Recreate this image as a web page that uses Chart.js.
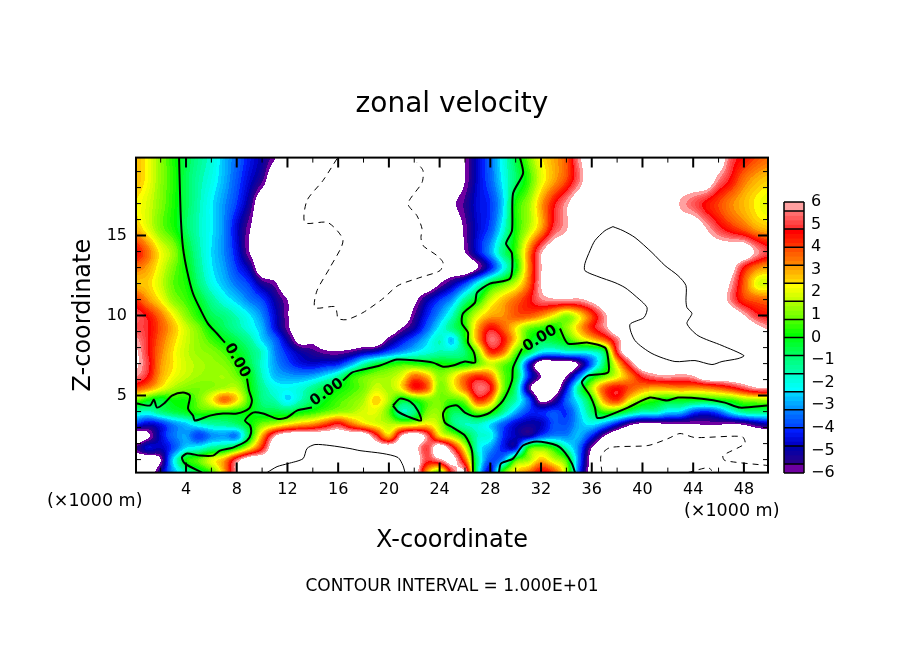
<!DOCTYPE html>
<html>
<head>
<meta charset="utf-8">
<title>zonal velocity</title>
<script src="https://cdn.jsdelivr.net/npm/chart.js@4"></script>
<style>
  html, body { margin: 0; padding: 0; background: #fff; }
  #wrap { position: relative; width: 904px; height: 654px; overflow: hidden; }
  canvas { position: absolute; left: 0; top: 0; }
</style>
</head>
<body>
<div id="wrap">
  <canvas id="field" width="904" height="654"></canvas>
  <canvas id="scaleBar" width="904" height="654"></canvas>
</div>
<script>
const L = -7; // off the colour scale, below (white)
const H = 7;  // off the colour scale, above (white)

// heights of the rows below, top to bottom (x1 km on the axis)
const zLevels = [20, 18.5, 17, 15.5, 14, 13, 12, 11, 10, 9.25, 8.5, 7.75, 7, 6.25, 5.5, 4.75, 4, 3.25, 2.5, 1.75, 1, 0.2];

// zonal velocity, one value per km of x (0..50)
const u20 = [2.8,2.2,1.2,.3,-.5,-1.2,-1.8,-2.7,-3.5,-4.3, -5,-5.9,L,L,L,L,L,L,L,L, L,L,L,L,L,L,-6,-4.6,-3.5,-2, -.5,1,2.3,3,3.8,5.8,H,H,H,H, H,H,H,H,H,H,H,5.2,4.6,4,3.6];
const u185 = [2.8,2.2,1.2,.4,-.6,-1.4,-2,-2.8,-3.7,-4.6, -5.5,L,L,L,L,L,L,L,L,L, L,L,L,L,L,L,-6,-4.6,-3.6,-2.2, -.8,.5,2,3,4,5.5,H,H,H,H, H,H,H,H,H,H,5.6,4.6,3.5,2.9,2.6];
const u17 = [2.4,1.9,1.1,.3,-.6,-1.5,-2.3,-3.1,-4,-5.2, L,L,L,L,L,L,L,L,L,L, L,L,L,L,L,-6.2,-5.5,-4.5,-4,-2.5, .2,1.3,3,4.6,5.8,H,H,H,H,H, H,H,H,5.9,5.3,4.6,4,3.3,2.8,2.3,2];
const u155 = [2.8,2,1,.3,-.7,-1.6,-2.3,-3.2,-4.6,-5.9, L,L,L,L,L,L,L,L,L,L, L,L,L,L,L,L,-5.8,-4.6,-3.8,-2, .2,1.5,3,5,5.9,H,H,H,H,H, H,H,H,H,H,6,5,4.3,3.7,3,2.7];
const u14 = [4.6,3.5,2.2,1.3,-.1,-1.4,-2.4,-3.2,-4.4,-6, L,L,L,L,L,L,L,L,L,L, L,L,L,L,L,L,-6,-4.5,-3,-1, .5,3.2,5.8,H,H,H,H,H,H,H, H,H,H,H,H,H,H,H,H,5.8,5];
const u13 = [3.5,3,2,1,.1,-1.2,-2.3,-3,-4,-5, L,L,L,L,L,L,L,L,L,L, L,L,L,L,L,L,L,-6,-4.3,-2.2, 0,3.2,5.9,H,H,H,H,H,H,H, H,H,H,H,H,H,H,6.5,4.6,3.4,2.9];
const u12 = [2.8,2.6,1.8,.8,.3,-.9,-2,-2.7,-3.4,-4, -5.2,-5.8,L,L,L,L,L,L,L,L, L,L,L,L,-6,-5,-3.8,-2,-.2,.8, 1.8,3.6,6,H,H,H,H,H,H,H, H,H,H,H,H,H,H,5.8,3.8,2.1,1.9];
const u11 = [4.2,3.2,2.3,1.2,.6,-.2,-1.2,-2,-2.6,-3.3, -3.9,-5,-6,L,L,L,L,L,L,L, L,L,-6.3,-5,-4,-3,-1.2,.1,1.8,2.8, 3.6,4.5,5.5,5.8,5.8,5.8,6.3,H,H,H, H,H,H,H,H,H,H,5.5,4.2,3.8,3.6];
const u10 = [5.3,4.6,3.5,2.3,1.2,.3,-.6,-1,-1.6,-2.3, -3.2,-4.6,-5.9,L,L,L,L,L,L,L, L,L,-5.6,-4.2,-3,-1.6,.4,2,3,3.2, 3.8,3.8,3.2,2.2,1.2,2.3,4,5.7,H,H, H,H,H,H,H,H,H,H,6.1,5,4.6];
const u925 = [5.2,4.8,3.8,2.8,1.8,1,0,-.7,-1.3,-2, -2.8,-4.4,-5.8,L,L,L,L,L,L,L, L,-6,-5,-3.6,-2.2,-1,.3,3,4.6,3.8, 2.4,1,.5,.1,1.2,2.8,4.4,5.6,H,H, H,H,H,H,H,H,H,H,H,6.4,5.8];
const u85 = [5.8,4.8,3.6,2.6,1.8,1.2,.6,0,-.6,-1.3, -2.5,-3.5,-5,-6.5,-6.3,L,L,L,L,L, -5.6,-4.5,-3.6,-2.6,-1.6,-2.6,0,3,5.4,4.6, 2.5,.3,-.5,-.3,.3,1.5,2.5,3.6,5.5,H, H,H,H,H,H,H,H,H,H,H,H];
const u775 = [6.2,4.8,3.4,2.4,1.7,1.3,1.1,.7,0,-.8, -1.7,-3.2,-4.2,-5,-5.4,-5.8,-5.9,-5.6,-5,-4.6, -3.7,-3,-2.4,-1.9,-1.5,-1.5,-.8,1.2,4.2,3.6, 1,-.5,-2.2,-2.5,-2,-2,-1.8,-.5,4.8,H, H,H,H,H,H,H,H,H,H,H,H];
const u7 = [6.2,5,3.2,2.4,1.8,1.5,1.3,1.1,.5,-.5, -1.8,-3,-3.8,-4.4,-4.6,-4.4,-4.2,-3,-1.5,-.4, .1,.5,.4,.2,.2,.1,.1,.9,1.8,1, -.3,-4.3,L,L,L,-5.8,-3.5,-.7,2.5,5.2, H,H,H,H,H,H,H,H,H,H,H];
const u625 = [5.7,4.7,3,2.2,1.7,1.4,1.3,1.4,.9,0, -1.6,-2.7,-3,-3.1,-2.9,-2.3,-1.4,.1,.8,1.2, 1.4,2,3.5,2.8,1.2,2,3.4,4.2,3.5,1, -.3,-4,-6,L,-6,-3.5,-.5,.8,2,3.4, 5,5.7,5.9,5.7,6,H,H,H,H,H,H];
const u55 = [4,3.3,2.3,1.5,1.1,1,1.2,1.5,1.6,.2, -1.2,-2,-2.2,-1.9,-1.2,-.4,0,.5,1,1.8, 1.5,2.4,4.5,3.8,1.1,2,3.6,5.4,4.8,1.2, -1,-5.5,L,L,-4.5,-1,1.5,3.8,4.6,3.9, 3.3,3,3.1,3.3,3.2,3.4,3.8,4.4,5.2,5.9,5.9];
const u475 = [1,.2,-.3,.2,.2,1,2.2,3.6,2.5,.5, -1,-1.5,-2.4,-1.6,-.7,0,.6,1,1.5,2.6, 1.5,-.2,.3,1,1,.7,1.3,4.2,3.2,0, -1.5,-3.6,-6.3,-5.6,-3.6,-2,.1,3.2,4.2,2.3, 1,.4,0,.1,0,0,.2,.5,1.2,1.4,1.5];
const u4 = [-1.5,-1.8,-1,-.5,-.1,.5,.5,.4,.2,.1, -.4,-.4,-.5,0,.4,.9,1.3,1.5,1.9,2, .8,-1.5,-1,1,1.2,-.6,-.4,1,.5,-1.2, -2.8,-4,-4.2,-3.8,-4,-2.6,-.8,.5,.3,-.8, -1.6,-1.6,-2.4,-2.6,-3.8,-4.2,-3.6,-2.2,-1.2,-1,-1];
const u325 = [-4,-4.7,-4.2,-3.2,-2.6,-1.8,-1.4,-1.2,-.8,0, 1,1.5,2.2,2.8,3.2,4,4.8,3.6,2.6,2, 1.6,1.5,1.7,2.3,1.5,-.8,-1.6,-1.6,-2.4,-3.6, -4.6,-5,-4.8,-3.8,-3.8,-2.8,-2.2,-3,-4.4,-5.7, -6.2,-6.2,-6,-6,-6,-5.9,-5.9,-6,-5.8,-5.2,-4.8];
const u25 = [L,-6.2,-4.6,-3.4,-3,-4,-3.2,-3,-3.2,-.3, 3,5.9,H,H,H,H,H,H,H,5, 2.8,6,H,5.5,2.6,1.5,0,-1.6,-2,-4, -4.8,-5,-3.8,-3.2,-3.2,-2.8,-4.2,-6,L,L, L,L,L,L,L,L,L,L,L,L,L];
const u175 = [-5.6,-4.6,-4.8,-3.8,-2.4,-2,-1.2,-.8,.2,2.2, 4.5,H,H,H,H,H,H,H,H,H, H,H,6.5,5,H,5,2,-1.8,-3,-4.2, -4.4,.3,1,.2,-1.6,-3.4,-6,L,L,L, L,L,L,L,L,L,L,L,L,L,L];
const u1 = [L,L,-6,-2.4,.1,.8,2,3,5.4,H, H,H,H,H,H,H,H,H,H,H, H,H,H,5,5.7,6.5,3.8,-1.2,-3.8,-3, .5,1.4,2.8,1.8,.6,-3.4,-6.5,L,L,L, L,L,L,L,L,L,L,L,L,L,L];
const u02 = [L,L,-5,-3,-1.5,-.5,.6,3,6,H, H,H,H,H,H,H,H,H,H,H, H,H,H,3,1,5,6,-1.5,-4.5,.6, 2.5,3.5,4.8,4,1.5,-3.8,-6.5,L,L,L, L,L,L,L,L,L,L,L,L,L,L];
const uRows = [u20, u185, u17, u155, u14, u13, u12, u11, u10, u925, u85, u775, u7, u625, u55, u475, u4, u325, u25, u175, u1, u02];

// colour table, one box per contour band
const boxEdges = [-6, -5.6, -4.8, -4, -3.2, -2.4, -1.6, -.8, 0, .8, 1.6, 2.4, 3.2, 4, 4.8, 5.6, 6];
const boxFrom = [[110,0,160],[40,0,140],[0,0,200],[0,70,255],[0,150,255],[0,255,255],[0,255,170],[0,255,90],[0,255,0],[110,255,0],[200,255,0],[255,215,0],[255,130,0],[255,50,0],[255,50,50],[255,160,160]];
const boxTo = [[110,0,160],[0,0,170],[0,30,255],[0,120,255],[0,210,255],[0,255,210],[0,255,120],[0,255,30],[70,255,0],[170,255,0],[255,255,0],[255,160,0],[255,80,0],[255,0,0],[255,110,110],[255,160,160]];

// axes
const xTicks = [4, 8, 12, 16, 20, 24, 28, 32, 36, 40, 44, 48];
const xMinor = [2, 6, 10, 14, 18, 22, 26, 30, 34, 38, 42, 46];
const zTicks = [5, 10, 15];
const zMinor = [1, 2, 3, 4, 6, 7, 8, 9, 11, 12, 13, 14, 16, 17, 18, 19];
const barTicks = [-6, -5, -4, -3, -2, -1, 0, 1, 2, 3, 4, 5, 6];

// zero contours, [x, z]
const zeroWestA = [[3.45,19.88],[3.52,17.81],[3.6,15.94],[3.76,14.25],[4.08,12.81],[4.55,11.38],[5.18,10.31],[5.73,9.5],[6.44,8.88],[7.07,8.31]];
const zeroWestB = [[8.81,6.06],[8.97,5.31],[9.2,4.69],[8.97,4.19],[8.02,3.88],[6.92,3.88],[5.89,3.75],[4.71,3.44],[4.55,3.75],[4.16,4.19],[4.31,5],[3.76,5.19],[2.89,5],[2.34,4.56],[1.71,4.25],[1.47,4.75],[1.16,4.38],[.13,4.5]];
const zeroMidA = [[5.26,.19],[3.92,.75],[3.68,1.13],[4.08,1.38],[5.1,1.25],[6.13,1.25],[6.68,1.56],[7.7,1.75],[8.81,2.19],[9.12,2.63],[9.05,3.13],[8.65,3.44],[9.28,3.94],[10.07,3.88],[11.18,3.56],[11.96,3.63],[12.75,4.06],[13.93,4.25]];
const zeroMidB = [[16.38,5.94],[17.09,6.44],[17.96,6.63],[19.3,6.88],[20.64,7.25],[22.21,7.19],[23.48,7.06],[24.27,6.81],[25.05,6.88],[26,7.13],[26.79,7.06],[26.71,7.69],[26.24,8.31],[26.24,8.94],[25.76,9.5],[25.84,10.13],[26.79,10.81],[26.95,11.44],[27.97,12],[29.55,12.31],[29.71,13.88],[29.24,14.5],[29.71,15.31],[29.79,17.63],[30.58,18.88],[30.34,19.88]];
const zeroLoop = [[20.32,4.38],[20.88,4.81],[21.67,4.63],[22.29,4.06],[22.53,3.44],[21.51,3.69],[20.72,4],[20.32,4.38]];
const zeroEastA = [[26.63,.19],[26.55,1.56],[26,2.5],[25.05,3],[24.42,3.31],[24.27,3.88],[24.58,4.25],[25.37,4.38],[26,3.94],[26.95,3.69],[27.97,3.94],[29,4.69],[29.71,5.94],[29.79,6.75],[30.5,7.94]];
const zeroEastB = [[33.49,9.19],[34.12,8.25],[35.7,8.31],[37.04,8],[37.28,7.38],[37.28,6.44],[35.7,6.25],[35.22,5.81],[35.86,5],[36.25,4.25],[36.41,3.63],[36.88,3.63],[38.85,4.25],[40.59,4.88],[41.93,4.69],[42.8,4.88],[44.69,4.81],[46.5,4.56],[47.69,4.25],[49.82,4.38]];
const zeroArch = [[28.68,.19],[28.84,.75],[29.79,1.06],[30.58,1.88],[31.68,2.13],[33.25,1.88],[33.89,1.44],[34.44,.75],[34.68,.19]];

// +10 contours
const plusLoop = [[37.67,15.56],[37.04,15.31],[36.25,14.69],[35.86,14.06],[35.46,13.25],[35.46,12.81],[36.49,12.44],[37.83,12.06],[38.62,11.75],[39.41,11.25],[40.36,10.5],[40.12,9.88],[39.01,9.44],[39.41,8.44],[40.75,7.63],[42.56,7.13],[44.14,7.19],[45.48,6.94],[46.27,7.13],[47.53,7.31],[48,7.5],[46.27,8.13],[44.38,8.75],[43.51,9.5],[43.9,10.13],[43.51,10.5],[43.43,10.94],[43.43,11.88],[42.8,12.5],[41.77,13.13],[40.75,13.94],[39.41,14.88],[38.46,15.31],[37.67,15.56]];
const plusLow = [[10.39,.19],[11.18,.56],[12.04,.75],[13.23,1.06],[13.54,1.69],[14.17,1.94],[15.35,1.88],[16.93,1.69],[17.72,1.56],[19.53,1.38],[20.72,1.13],[21.11,.63],[21.27,.19]];

// -10 contours
const minusTop = [[15.91,19.81],[14.8,18.44],[13.54,17.19],[13.38,15.81],[15.2,15.81],[16.38,14.69],[15.35,13],[14.33,11.56],[14.17,10.5],[15.75,10.56],[15.91,10.13],[15.99,9.81],[16.7,9.75],[17.96,10.19],[19.53,11.06],[20.72,11.88],[22.45,12.38],[24.03,12.81],[24.27,13.31],[23.79,13.75],[22.69,14.38],[22.53,14.88],[22.61,15.44],[22.21,16.25],[21.51,17],[22.61,18.31],[22.69,19.06],[22.21,19.56]];
const minusLow = [[36.8,.19],[36.73,1.25],[37.44,1.75],[40.43,1.88],[42.01,2.31],[42.96,2.63],[44.14,2.38],[47.85,2.44],[48.08,2],[46.35,1.25],[46.5,.94],[49.9,.63]];
const minusCorner = [[43.59,.19],[45.17,.5],[45.48,.31]];

// the 0.00 labels sitting in the gaps of the zero contour
const labelX = [8.03, 15.12, 31.92];
const labelZ = [7.19, 5.19, 8.56];
const labelAngle = [60, -35, -32];

const FONT = '"DejaVu Sans"';

const shades = [];
boxFrom.forEach((from, b) => {
  const steps = Math.round((boxEdges[b + 1] - boxEdges[b]) / 0.2);
  for (let s = 0; s < steps; s++) {
    const t = steps > 1 ? s / (steps - 1) : 0;
    shades.push(from.map((c, i) => Math.round(c + (boxTo[b][i] - c) * t)));
  }
});

const clampIdx = (i, n) => Math.max(0, Math.min(n - 1, i));
const catmull = (a, b, c, d, t) =>
  b + 0.5 * t * (c - a + t * (2 * a - 5 * b + 4 * c - d + t * (3 * (b - c) + d - a)));

function rowIndex(z) {
  for (let i = 0; i < zLevels.length - 1; i++) {
    if (z >= zLevels[i + 1]) return i + (zLevels[i] - z) / (zLevels[i] - zLevels[i + 1]);
  }
  return zLevels.length - 1;
}

function sample(x, z) {
  const r = rowIndex(z);
  const r0 = Math.floor(r), c0 = Math.floor(x);
  const rows = [];
  for (let j = -1; j <= 2; j++) {
    const row = uRows[clampIdx(r0 + j, uRows.length)];
    rows.push(catmull(row[clampIdx(c0 - 1, 51)], row[clampIdx(c0, 51)], row[clampIdx(c0 + 1, 51)], row[clampIdx(c0 + 2, 51)], x - c0));
  }
  return catmull(rows[0], rows[1], rows[2], rows[3], r - r0);
}

// paints the velocity field behind the contour lines, through the chart's scales
const fieldPlugin = {
  id: 'fieldPlugin',
  beforeDatasetsDraw(chart) {
    const { ctx, chartArea: a, scales } = chart;
    const w = Math.round(a.right - a.left), h = Math.round(a.bottom - a.top);
    const img = ctx.createImageData(w, h);
    for (let py = 0; py < h; py++) {
      const z = scales.y.getValueForPixel(a.top + py + 0.5);
      for (let px = 0; px < w; px++) {
        const v = sample(scales.x.getValueForPixel(a.left + px + 0.5), z);
        const k = (py * w + px) * 4;
        let rgb = [255, 255, 255];
        if (v >= -6 && v < 6) rgb = shades[Math.min(shades.length - 1, Math.floor((v + 6) / 0.2))];
        img.data[k] = rgb[0];
        img.data[k + 1] = rgb[1];
        img.data[k + 2] = rgb[2];
        img.data[k + 3] = 255;
      }
    }
    ctx.putImageData(img, Math.round(a.left), Math.round(a.top));
  },
  afterDraw(chart) {
    const { ctx, chartArea: a, scales } = chart;
    ctx.save();
    ctx.fillStyle = '#000';
    ctx.strokeStyle = '#000';

    const tick = (vals, len, width) => {
      ctx.lineWidth = width;
      ctx.beginPath();
      vals.x.forEach(v => {
        const p = scales.x.getPixelForValue(v);
        ctx.moveTo(p, a.bottom); ctx.lineTo(p, a.bottom - len);
        ctx.moveTo(p, a.top); ctx.lineTo(p, a.top + len);
      });
      vals.z.forEach(v => {
        const p = scales.y.getPixelForValue(v);
        ctx.moveTo(a.left, p); ctx.lineTo(a.left + len, p);
        ctx.moveTo(a.right, p); ctx.lineTo(a.right - len, p);
      });
      ctx.stroke();
    };
    tick({ x: xMinor, z: zMinor }, 5, 1);
    tick({ x: xTicks, z: zTicks }, 10, 2);

    ctx.lineWidth = 2;
    ctx.strokeRect(a.left, a.top, a.right - a.left, a.bottom - a.top);

    // contour labels
    ctx.font = 'bold 15px ' + FONT;
    ctx.textAlign = 'center';
    ctx.textBaseline = 'middle';
    labelX.forEach((x, i) => {
      ctx.save();
      ctx.translate(scales.x.getPixelForValue(x), scales.y.getPixelForValue(labelZ[i]));
      ctx.rotate(labelAngle[i] * Math.PI / 180);
      ctx.fillText('0.00', 0, 0);
      ctx.restore();
    });

    // axis multipliers
    ctx.font = '17.5px ' + FONT;
    ctx.textAlign = 'left';
    ctx.fillText('(×1000 m)', 47, 501);
    ctx.fillText('(×1000 m)', 684, 511);
    ctx.restore();
  }
};

const contourSet = (label, pts, width, dash) => ({
  label,
  data: pts.map(p => ({ x: p[0], y: p[1] })),
  showLine: true,
  pointRadius: 0,
  borderColor: '#000',
  borderWidth: width,
  borderDash: dash || [],
  borderJoinStyle: 'round',
  tension: 0.25
});

new Chart(document.getElementById('field'), {
  type: 'scatter',
  data: {
    datasets: [
      contourSet('0 west', zeroWestA, 2),
      contourSet('0 west', zeroWestB, 2),
      contourSet('0 mid', zeroMidA, 2),
      contourSet('0 mid', zeroMidB, 2),
      contourSet('0 loop', zeroLoop, 2),
      contourSet('0 east', zeroEastA, 2),
      contourSet('0 east', zeroEastB, 2),
      contourSet('0 arch', zeroArch, 2),
      contourSet('+10', plusLoop, 1),
      contourSet('+10', plusLow, 1),
      contourSet('-10', minusTop, 1, [6, 5]),
      contourSet('-10', minusLow, 1, [6, 5]),
      contourSet('-10', minusCorner, 1, [6, 5])
    ]
  },
  plugins: [fieldPlugin],
  options: {
    responsive: false,
    animation: false,
    devicePixelRatio: 1,
    plugins: {
      legend: { display: false },
      tooltip: { enabled: false },
      title: {
        display: true,
        text: 'zonal velocity',
        color: '#000',
        font: { family: FONT, size: 28, weight: 'normal' },
        padding: { top: 88, bottom: 36 }
      },
      subtitle: {
        display: true,
        position: 'bottom',
        text: 'CONTOUR INTERVAL = 1.000E+01',
        color: '#000',
        font: { family: FONT, size: 17, weight: 'normal' },
        padding: { top: 6, bottom: 57 }
      }
    },
    scales: {
      x: {
        type: 'linear',
        min: 0.055,
        max: 49.9,
        grid: { display: false, drawTicks: false },
        border: { display: false },
        afterBuildTicks: s => { s.ticks = xTicks.map(v => ({ value: v })); },
        afterFit: s => { s.height = 98; },
        ticks: { color: '#000', font: { family: FONT, size: 16 }, padding: 8, maxRotation: 0, autoSkip: false },
        title: {
          display: true,
          text: 'X-coordinate',
          color: '#000',
          font: { family: FONT, size: 24 },
          padding: { top: 0, bottom: 15 }
        }
      },
      y: {
        type: 'linear',
        min: 0.1875,
        max: 19.875,
        grid: { display: false, drawTicks: false },
        border: { display: false },
        afterBuildTicks: s => { s.ticks = zTicks.map(v => ({ value: v })); },
        afterFit: s => { s.width = 136; },
        ticks: { color: '#000', font: { family: FONT, size: 16 }, padding: 9 },
        title: {
          display: true,
          text: 'Z-coordinate',
          color: '#000',
          font: { family: FONT, size: 24 },
          padding: { top: 69, bottom: 0 }
        }
      },
      // empty axis, keeps the strip for the colour bar free and the title centred on the page
      side: {
        type: 'linear',
        position: 'right',
        grid: { display: false, drawTicks: false },
        border: { display: false },
        ticks: { display: false },
        afterFit: s => { s.width = 136; }
      }
    }
  }
});

// colour bar, each shade a floating bar on its own value axis
const barSets = [];
let shadeAt = 0;
boxFrom.forEach((from, b) => {
  const steps = Math.round((boxEdges[b + 1] - boxEdges[b]) / 0.2);
  for (let s = 0; s < steps; s++) {
    const lo = boxEdges[b] + s * 0.2;
    const rgb = shades[shadeAt++];
    barSets.push({
      data: [[lo, Math.min(6, lo + 0.25)]],
      backgroundColor: `rgb(${rgb[0]},${rgb[1]},${rgb[2]})`,
      grouped: false,
      barPercentage: 1,
      categoryPercentage: 1
    });
  }
});
barSets.reverse();

const barFrame = {
  id: 'barFrame',
  afterDatasetsDraw(chart) {
    const { ctx, chartArea: a, scales } = chart;
    ctx.save();
    ctx.strokeStyle = '#000';
    ctx.lineWidth = 1.5;
    ctx.beginPath();
    boxEdges.forEach(e => {
      const p = scales.y.getPixelForValue(e);
      ctx.moveTo(a.left, p); ctx.lineTo(a.right, p);
    });
    ctx.moveTo(a.left, a.top); ctx.lineTo(a.left, a.bottom);
    ctx.moveTo(a.right, a.top); ctx.lineTo(a.right, a.bottom);
    ctx.stroke();
    ctx.restore();
  }
};

new Chart(document.getElementById('scaleBar'), {
  type: 'bar',
  data: { labels: ['u'], datasets: barSets },
  plugins: [barFrame],
  options: {
    responsive: false,
    animation: false,
    devicePixelRatio: 1,
    layout: { padding: { left: 784, right: 0, top: 202, bottom: 181 } },
    plugins: { legend: { display: false }, tooltip: { enabled: false } },
    scales: {
      x: { display: false },
      y: {
        position: 'right',
        min: -6,
        max: 6,
        grid: { display: false, drawTicks: false },
        border: { display: false },
        afterBuildTicks: s => { s.ticks = barTicks.map(v => ({ value: v })); },
        afterFit: s => { s.width = 100; },
        ticks: {
          color: '#000',
          font: { family: FONT, size: 16 },
          padding: 7,
          autoSkip: false,
          callback: v => (v < 0 ? '\u2212' + (-v) : String(v))
        }
      }
    }
  }
});
</script>
</body>
</html>
